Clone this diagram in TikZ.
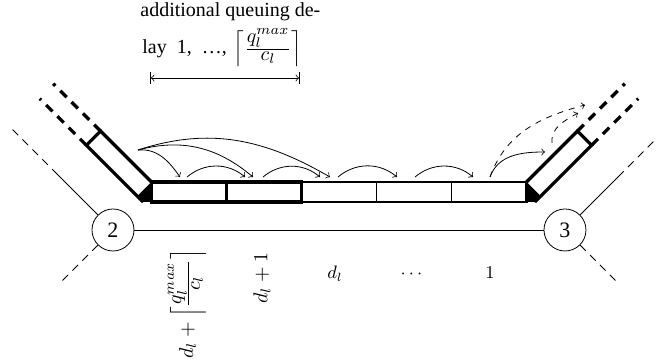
\documentclass[tikz,border=0pt]{standalone}
\usepackage{amsmath}
\usepackage{fontspec}
\setmainfont{Liberation Serif}
\usetikzlibrary{positioning}
\newcommand{\qceil}{\Big\lceil\frac{\textstyle q_l^{max}}{\textstyle c_l}\Big\rceil}
\tikzset{
  router/.style={circle,draw,minimum size=21pt,inner sep=0pt,font=\fontsize{11}{13}\selectfont},
  link/.style={dash pattern=on 4pt off 3pt},
  wall/.style={ultra thick},
  wallcont/.style={ultra thick,dash pattern=on 4.5pt off 3.5pt},
  hop/.style={->},
  wish/.style={->,dashed},
  slotlbl/.style={font=\small}
}
\begin{document}
\begin{tikzpicture}[x=0.5pt,y=0.5pt]
\useasboundingbox (-339,-133) rectangle (322,230);
% routers and the link between them
\node[router] (r2) at (-226,0) {2};
\node[router] (r3) at (226,0) {3};
\draw (r2) -- (r3);
% other links of the routers
\path (r2.center) ++(135:78) coordinate (n2a) ++(135:66) coordinate (n2b);
\path (r2.center) ++(225:76) coordinate (n2c);
\path (r3.center) ++(45:75) coordinate (n3a) ++(45:53) coordinate (n3b);
\path (r3.center) ++(315:76) coordinate (n3c);
\draw (r2) -- (n2a);
\draw[link] (n2a) -- (n2b);
\draw[link] (r2) -- (n2c);
\draw (r3) -- (n3a);
\draw[link] (n3a) -- (n3b);
\draw[link] (r3) -- (n3c);
% incoming and outgoing queues (mirrored)
\begin{scope}[shift={(-187.5,48)},rotate=135]
\fill (0,0) -- (-14.1,14.1) -- (-8.3,20) -- (0,20) -- cycle;
\draw[wall] (0,0) -- (72,0) -- (72,20) -- (-8.3,20);
\draw[wallcont] (72,0) -- (139,0);
\draw[wallcont] (72,20) -- (138,20);
\end{scope}
\begin{scope}[xscale=-1]
\begin{scope}[shift={(-187.5,48)},rotate=135]
\fill (0,0) -- (-14.1,14.1) -- (-8.3,20) -- (0,20) -- cycle;
\draw[wall] (0,0) -- (72,0) -- (72,20) -- (-8.3,20);
\draw[wallcont] (72,0) -- (139,0);
\draw[wallcont] (72,20) -- (138,20);
\end{scope}
\end{scope}
% link queue
\draw[very thick] (-37.5,28) rectangle (187.5,48);
\draw[thick] (37.5,28) -- (37.5,48) (112.5,28) -- (112.5,48);
\draw[ultra thick] (-187.5,28) rectangle (-37.5,48);
\draw[ultra thick] (-112.5,28) -- (-112.5,48);
% additional delay range
\coordinate (addl) at (-189,152);
\coordinate (addr) at (-39,152);
\draw[|<->|] (addl) -- (addr);
\node[anchor=base west,inner sep=0pt] (delaybot) at (-197,176)
  {lay\hspace{5pt}1,\hspace{5pt}\ldots,\hspace{3.5pt}$\qceil$};
\node[anchor=base west,inner sep=0pt] (delaytop) at (-199,213) {additional queuing de-};
% hops of the packets
\coordinate (s0) at (-201,80);
\coordinate (j1) at (-159,53);
\coordinate (j2) at (-86,53);
\coordinate (j3) at (-9,53);
\coordinate (h1a) at (-152,53);
\coordinate (h1b) at (-94,53);
\coordinate (h2a) at (-76,53);
\coordinate (h2b) at (-19,53);
\coordinate (h3a) at (-1,53);
\coordinate (h3b) at (58,53);
\coordinate (h4a) at (76,53);
\coordinate (h4b) at (134,53);
\coordinate (h5a) at (151,53);
\coordinate (k1) at (206,78);
\coordinate (k2) at (246,125);
\coordinate (k3a) at (213,87);
\coordinate (k3b) at (239,117);
\draw[hop] (s0) to[out=5,in=125] (j1);
\draw[hop] (s0) to[out=15,in=140] (j2);
\draw[hop] (s0) to[out=18,in=150] (j3);
\draw[hop] (h1a) to[bend left=40] (h1b);
\draw[hop] (h2a) to[bend left=40] (h2b);
\draw[hop] (h3a) to[bend left=40] (h3b);
\draw[hop] (h4a) to[bend left=40] (h4b);
\draw[hop] (h5a) to[out=70,in=180] (k1);
\draw[wish] (h5a) to[out=70,in=195] (k2);
\draw[wish] (k3a) to[out=95,in=210] (k3b);
% waiting times
\node[rotate=90] (w1) at (-152,-74) {$d_l+\qceil$};
\node[rotate=90] (w2) at (-77,-48) {$d_l+1$};
\node[slotlbl,anchor=base] (w3) at (-4,-49) {$d_l$};
\node[slotlbl,anchor=base] (w4) at (74,-49) {$\cdots$};
\node[slotlbl,anchor=base] (w5) at (151,-49) {$1$};
\end{tikzpicture}
\end{document}
